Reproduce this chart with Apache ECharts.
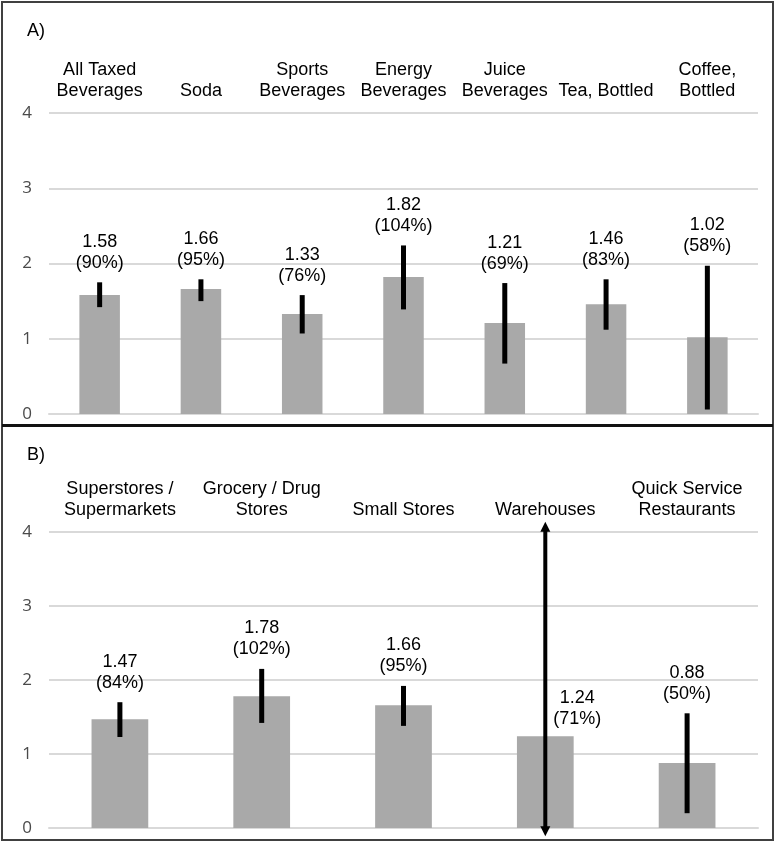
<!DOCTYPE html>
<html>
<head>
<meta charset="utf-8">
<script src="https://cdn.jsdelivr.net/npm/echarts@6/dist/echarts.min.js"></script>
<style>
html,body{margin:0;padding:0;background:#fff;}
#chart{width:777px;height:842px;}
</style>
</head>
<body>
<div id="chart"></div>
<script>
// Panel A: beverage types
var catsA = ['All Taxed\nBeverages', 'Soda', 'Sports\nBeverages', 'Energy\nBeverages', 'Juice\nBeverages', 'Tea, Bottled', 'Coffee,\nBottled'];
var valsA = [1.58, 1.66, 1.33, 1.82, 1.21, 1.46, 1.02];
var pctA = ['90%', '95%', '76%', '104%', '69%', '83%', '58%'];
var lowA = [1.42, 1.50, 1.07, 1.39, 0.67, 1.12, 0.06];
var highA = [1.75, 1.79, 1.58, 2.24, 1.74, 1.79, 1.97];

// Panel B: store types
var catsB = ['Superstores /\nSupermarkets', 'Grocery / Drug\nStores', 'Small Stores', 'Warehouses', 'Quick Service\nRestaurants'];
var valsB = [1.47, 1.78, 1.66, 1.24, 0.88];
var pctB = ['84%', '102%', '95%', '71%', '50%'];
var lowB = [1.23, 1.42, 1.38, -0.11, 0.20];
var highB = [1.70, 2.15, 1.92, 4.14, 1.55];

var yTicks = [0, 1, 2, 3, 4];

var chart = echarts.init(document.getElementById('chart'), null, {renderer: 'canvas'});

var FONT = '"Liberation Sans", Arial, sans-serif';
var AXFONT = '"Open Sans", "Noto Sans", sans-serif';

function errData(vals, lows, highs) {
  return vals.map(function (v, i) { return [i, lows[i], highs[i], v]; });
}

function makeRender(pcts, axisMax, axisMin) {
  return function (params, api) {
    var idx = api.value(0);
    var lo = api.value(1), hi = api.value(2), v = api.value(3);
    var pct = pcts[params.dataIndex];
    var top = api.coord([idx, hi]);
    var bot = api.coord([idx, lo]);
    var barTop = api.coord([idx, v]);
    var x = top[0];
    var children = [];
    var labelText = v.toFixed(2) + '\n(' + pct + ')';
    var ts = {text: labelText, fontSize: 18, fontFamily: FONT, fill: '#000', align: 'center', verticalAlign: 'bottom', lineHeight: 21};
    if (hi > axisMax || lo < axisMin) {
      var ah = 10, aw = 5;
      children.push({type: 'rect', shape: {x: x - 2, y: top[1] + ah - 1, width: 4, height: bot[1] - top[1] - 2 * ah + 2}, style: {fill: '#000'}});
      children.push({type: 'polygon', shape: {points: [[x, top[1]], [x - aw, top[1] + ah], [x + aw, top[1] + ah]]}, style: {fill: '#000'}});
      children.push({type: 'polygon', shape: {points: [[x, bot[1]], [x - aw, bot[1] - ah], [x + aw, bot[1] - ah]]}, style: {fill: '#000'}});
      children.push({type: 'text', x: x + 32, y: barTop[1] - 7, style: ts});
    } else {
      children.push({type: 'rect', shape: {x: x - 2.5, y: top[1], width: 5, height: bot[1] - top[1]}, style: {fill: '#000'}});
      children.push({type: 'text', x: x, y: top[1] - 9, style: ts});
    }
    return {type: 'group', children: children};
  };
}

function xAxisCfg(cats, gi) {
  return {
    type: 'category', gridIndex: gi, data: cats, position: 'top',
    axisLine: {show: false}, axisTick: {show: false},
    axisLabel: {interval: 0, color: '#000', fontSize: 18, fontFamily: FONT, lineHeight: 21, margin: 11}
  };
}
function xAxisBottom(cats, gi) {
  return {
    type: 'category', gridIndex: gi, data: cats, position: 'bottom',
    axisLine: {show: true, lineStyle: {color: '#d9d9d9', width: 2}}, axisTick: {show: false},
    axisLabel: {show: false}
  };
}
function yAxisCfg(gi) {
  return {
    type: 'value', gridIndex: gi, min: yTicks[0], max: yTicks[yTicks.length - 1], interval: 1,
    axisLine: {show: false}, axisTick: {show: false},
    splitLine: {lineStyle: {color: '#d9d9d9', width: 2}},
    axisLabel: {color: '#4a4a4a', fontSize: 17, fontFamily: AXFONT, margin: 17}
  };
}

chart.setOption({
  animation: false,
  backgroundColor: '#fff',
  grid: [
    {left: 49, right: 19, top: 113, height: 301},
    {left: 49, right: 19, top: 532, height: 296}
  ],
  xAxis: [xAxisCfg(catsA, 0), xAxisCfg(catsB, 1), xAxisBottom(catsA, 0), xAxisBottom(catsB, 1)],
  yAxis: [yAxisCfg(0), yAxisCfg(1)],
  graphic: [
    {type: 'rect', shape: {x: 2, y: 2, width: 771, height: 423}, style: {fill: 'none', stroke: '#404040', lineWidth: 2}, z: 100},
    {type: 'rect', shape: {x: 2, y: 426, width: 771, height: 414}, style: {fill: 'none', stroke: '#404040', lineWidth: 2}, z: 100},
    {type: 'line', shape: {x1: 2, y1: 425.5, x2: 773, y2: 425.5}, style: {stroke: '#111', lineWidth: 3}, z: 101},
    {type: 'text', left: 27, top: 22, style: {text: 'A)', fontSize: 18, fontFamily: FONT, fill: '#000'}},
    {type: 'text', left: 27, top: 446, style: {text: 'B)', fontSize: 18, fontFamily: FONT, fill: '#000'}}
  ],
  series: [
    {type: 'bar', xAxisIndex: 0, yAxisIndex: 0, data: valsA, barWidth: '40%', itemStyle: {color: '#a9a9a9'}},
    {type: 'bar', xAxisIndex: 1, yAxisIndex: 1, data: valsB, barWidth: '40%', itemStyle: {color: '#a9a9a9'}},
    {type: 'custom', xAxisIndex: 0, yAxisIndex: 0, renderItem: makeRender(pctA, 4, 0), data: errData(valsA, lowA, highA), clip: false, z: 10},
    {type: 'custom', xAxisIndex: 1, yAxisIndex: 1, renderItem: makeRender(pctB, 4, 0), data: errData(valsB, lowB, highB), clip: false, z: 10}
  ]
});
</script>
</body>
</html>
